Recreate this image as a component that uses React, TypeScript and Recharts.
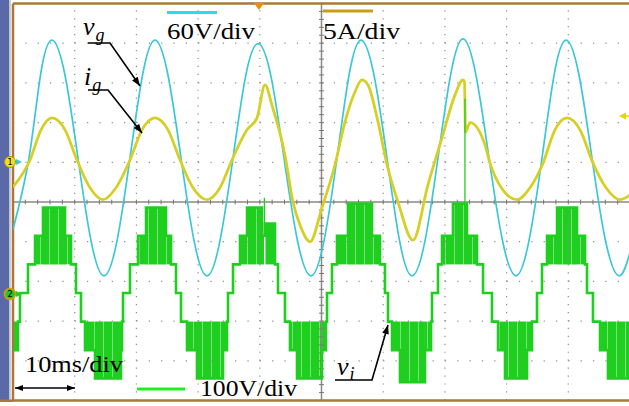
import {
  ComposedChart,
  Line,
  XAxis,
  YAxis,
  ReferenceLine,
  ReferenceArea,
} from "recharts";

// 10 ms/div, 10 divisions across; 10 vertical divisions
const TIME_DOMAIN = [0, 100];
const DIV_DOMAIN = [-5, 5];
const VG_DOMAIN = [-363.5, 236.5]; // 60 V/div
const IG_DOMAIN = [-30.29, 19.71]; // 5 A/div
const VI_DOMAIN = [-270.8, 729.2]; // 100 V/div

// grid voltage v_g (V)
const vgT = [0, 2.59, 4.45, 6.32, 8.43, 10.53, 12.64, 14.75, 16.86, 18.96, 20.99, 23.01, 25.12, 27.23, 29.34, 31.44, 33.55, 35.66, 37.69, 39.71, 41.82, 43.92, 46.11, 48.3, 50.41, 52.51, 54.46, 56.4, 58.51, 60.62, 62.65, 64.67, 66.78, 68.88, 70.91, 72.93, 75.04, 77.15, 79.34, 81.52, 83.63, 85.74, 87.69, 89.63, 91.74, 93.84, 96.03, 98.22, 100];
const vgV = [-105, 3, 128, 181, 128, 3, -122, -175, -122, 3, 128, 181, 128, 3, -122, -175, -122, 3, 126, 176, 126, 3, -122, -175, -122, 3, 128, 181, 128, 3, -122, -175, -122, 3, 128, 183, 128, 3, -122, -175, -122, 3, 128, 181, 128, 3, -122, -175, -140];

// grid current i_g (A)
const igT = [0, 2.76, 4.54, 6.32, 8.43, 10.37, 12.48, 14.59, 16.69, 18.96, 20.91, 23.01, 25.12, 27.07, 29.17, 31.44, 33.55, 35.49, 37.93, 39.55, 40.84, 41.98, 44.08, 45.38, 46.52, 48.14, 50.08, 52.19, 53.81, 55.43, 56.56, 57.54, 59.16, 60.62, 62.4, 64.83, 67.26, 69.53, 71.64, 72.93, 73.18, 73.34, 74.07, 76.5, 77.31, 79.42, 81.69, 83.79, 85.9, 87.84, 89.79, 91.9, 94.0, 96.11, 98.38, 100];
const igA = [-3.4, 0, 3.8, 5.3, 3.8, 0, -3.5, -5.0, -3.5, 0, 3.8, 5.3, 3.8, 0, -3.5, -5.0, -3.5, 0, 3.8, 5.3, 9.45, 6.9, 0.6, -5.3, -8.2, -10.3, -6.0, -0.6, 4.8, 8.6, 10.1, 9.45, 4.8, -0.6, -5.3, -10.1, -3.1, 2.8, 8.2, 10.1, 9.8, 3.5, 4.7, 1.9, -0.4, -3.8, -5.0, -3.5, -0.4, 3.8, 5.3, 3.8, -0.4, -3.5, -5.0, -4.4];

// inverter voltage v_i, staircase envelope (V)
const viT = [0, 0.81, 1.13, 2.43, 3.57, 4.86, 8.43, 9.4, 10.21, 11.02, 11.67, 13.29, 17.5, 17.67, 17.83, 18.96, 20.26, 21.56, 24.8, 25.61, 26.42, 27.23, 28.2, 29.82, 34.04, 34.68, 34.85, 35.66, 36.79, 37.93, 40.36, 40.85, 42.46, 42.95, 44.08, 44.89, 46.03, 50.08, 50.73, 50.89, 51.7, 52.51, 54.29, 58.18, 59.48, 60.29, 60.78, 61.43, 62.72, 66.77, 67.75, 67.91, 68.88, 69.53, 71.31, 73.58, 75.2, 76.18, 77.63, 78.61, 79.74, 83.31, 84.12, 84.93, 85.74, 86.55, 88.17, 91.41, 92.71, 93.03, 94.0, 95.14, 96.43, 100];
const viV = [-144, -72, 0, 72, 144, 215, 144, 72, 0, -72, -144, -215, -144, -72, 0, 72, 144, 215, 144, 72, 0, -72, -144, -215, -144, -72, 0, 72, 144, 215, 144, 175, 72, 0, -72, -144, -215, -144, -72, 0, 72, 144, 225, 144, 72, 0, -72, -144, -225, -144, -72, 0, 72, 144, 225, 144, 72, 0, -72, -144, -215, -144, -72, 0, 72, 144, 215, 144, 72, 0, -72, -144, -215, -215];

// PWM switching bands of v_i
const pwmStart = [0, 3.57, 4.86, 8.43, 11.67, 13.29, 17.5, 20.26, 21.56, 24.8, 28.2, 29.82, 34.04, 36.79, 37.93, 40.36, 40.85, 44.89, 46.03, 50.08, 52.51, 54.29, 58.18, 61.43, 62.72, 66.77, 69.53, 71.31, 73.58, 78.61, 79.74, 83.31, 86.55, 88.17, 91.41, 95.14, 96.43];
const pwmEnd = [0.81, 4.86, 8.43, 9.4, 13.29, 17.5, 17.67, 21.56, 24.8, 25.61, 29.82, 34.04, 34.68, 37.93, 40.36, 40.68, 42.46, 46.03, 50.08, 50.73, 54.29, 58.18, 59.48, 62.72, 66.77, 67.75, 71.31, 73.58, 75.2, 79.74, 83.31, 84.12, 88.17, 91.41, 92.71, 96.43, 100];
const pwmLow = [-144, 72, 72, 72, -144, -215, -144, 72, 72, 72, -144, -215, -144, 72, 72, 72, 72, -144, -215, -144, 72, 72, 72, -144, -225, -144, 72, 72, 72, -144, -215, -144, 72, 72, 72, -144, -215];
const pwmHigh = [-72, 144, 215, 144, -72, -72, -72, 144, 215, 144, -72, -72, -72, 144, 215, 144, 175, -72, -72, -72, 144, 225, 144, -72, -72, -72, 144, 225, 144, -72, -72, -72, 144, 215, 144, -72, -72];

// switching spikes
const spikeT = [40.75, 73.25];
const spikeFrom = [144, 225];
const spikeTo = [240, 490];

// graticule
const majorT = [10, 20, 30, 40, 60, 70, 80, 90];
const majorDiv = [-4, -3, -2, -1, 1, 2, 3, 4];
const minorT = Array.from({ length: 49 }, (_, i) => (i + 1) * 2);
const minorDiv = Array.from({ length: 49 }, (_, i) => -4.8 + i * 0.2);

const vgData = vgT.map((t, i) => ({ t, v: vgV[i] }));
const igData = igT.map((t, i) => ({ t, a: igA[i] }));
const viData = viT.map((t, i) => ({ t, v: viV[i] }));
const spikeData = spikeT.flatMap((t, i) => [
  { t, v: spikeFrom[i] },
  { t, v: spikeTo[i] },
  { t, v: null },
]);

const CYAN = "#3ac7d7";
const YELLOW = "#d6cf26";
const GREEN = "#1fcf1f";
const BROWN = "#a8793a";
const DOT = "#8c8c8c";
const FONT = "'Liberation Serif', 'DejaVu Serif', serif";

const Arrow = ({ pts, head = 9, both = false }: { pts: number[][]; head?: number; both?: boolean }) => {
  const tipHead = (a: number[], b: number[]) => {
    const dx = b[0] - a[0];
    const dy = b[1] - a[1];
    const len = Math.hypot(dx, dy);
    const ux = dx / len;
    const uy = dy / len;
    const bx = b[0] - ux * head;
    const by = b[1] - uy * head;
    const w = head * 0.38;
    return `${b[0]},${b[1]} ${bx - uy * w},${by + ux * w} ${bx + uy * w},${by - ux * w}`;
  };
  const n = pts.length;
  return (
    <g>
      <polyline
        points={pts.map((p) => p.join(",")).join(" ")}
        fill="none"
        stroke="#000"
        strokeWidth={1.6}
      />
      <polygon points={tipHead(pts[n - 2], pts[n - 1])} fill="#000" />
      {both && <polygon points={tipHead(pts[1], pts[0])} fill="#000" />}
    </g>
  );
};

const tickAxis = {
  type: "number" as const,
  interval: 0 as const,
  mirror: true,
  tick: false,
  tickSize: 4,
  axisLine: false,
  tickLine: { stroke: "#666" },
};

const App = () => {
  return (
    <div
      style={{
        position: "absolute",
        left: 0,
        top: 0,
        width: 629,
        height: 406,
        overflow: "hidden",
        background: "#fff",
      }}
    >
      <ComposedChart
        width={640}
        height={406}
        margin={{ top: 3.5, right: 10, bottom: 5.5, left: 13 }}
      >
        <defs>
          <pattern id="pwmFill" width="9" height="10" patternUnits="userSpaceOnUse">
            <rect width="9" height="10" fill={GREEN} />
            <rect x="4" width="0.7" height="10" fill="#a2eaa2" />
          </pattern>
        </defs>

        <XAxis xAxisId={0} dataKey="t" type="number" domain={TIME_DOMAIN} allowDataOverflow hide />
        <XAxis xAxisId="top" orientation="top" domain={TIME_DOMAIN} ticks={minorT} height={0} {...tickAxis} />
        <XAxis xAxisId="bottom" orientation="bottom" domain={TIME_DOMAIN} ticks={minorT} height={0} {...tickAxis} />
        <YAxis yAxisId="div" type="number" domain={DIV_DOMAIN} allowDataOverflow hide />
        <YAxis yAxisId="vg" type="number" domain={VG_DOMAIN} allowDataOverflow hide />
        <YAxis yAxisId="ig" type="number" domain={IG_DOMAIN} allowDataOverflow hide />
        <YAxis yAxisId="vi" type="number" domain={VI_DOMAIN} allowDataOverflow hide />
        <YAxis yAxisId="left" orientation="left" domain={DIV_DOMAIN} ticks={minorDiv} width={0} {...tickAxis} />
        <YAxis yAxisId="right" orientation="right" domain={DIV_DOMAIN} ticks={minorDiv} width={0} {...tickAxis} />

        {/* dotted graticule */}
        {majorT.map((t) => (
          <ReferenceLine key={`gx${t}`} x={t} yAxisId="div" stroke={DOT} strokeWidth={1.2} strokeDasharray="1.2 6.74" />
        ))}
        {majorDiv.map((d) => (
          <ReferenceLine key={`gy${d}`} y={d} yAxisId="div" stroke={DOT} strokeWidth={1.2} strokeDasharray="1.2 11.14" />
        ))}
        <ReferenceLine x={50} yAxisId="div" stroke="#8d8882" strokeWidth={1.5} />
        <ReferenceLine y={0} yAxisId="div" stroke="#8d8882" strokeWidth={1.5} />
        {minorT.map((t) => (
          <ReferenceLine
            key={`cx${t}`}
            yAxisId="div"
            segment={[{ x: t, y: -0.06 }, { x: t, y: 0.06 }]}
            stroke="#777"
          />
        ))}
        {minorDiv.map((d) => (
          <ReferenceLine
            key={`cy${d}`}
            yAxisId="div"
            segment={[{ x: 49.6, y: d }, { x: 50.4, y: d }]}
            stroke="#777"
          />
        ))}

        {/* frame */}
        <ReferenceLine y={5} yAxisId="div" stroke={BROWN} strokeWidth={2.5} />
        <ReferenceLine y={-5} yAxisId="div" stroke={BROWN} strokeWidth={2.5} />
        <ReferenceLine x={0} yAxisId="div" stroke={BROWN} strokeWidth={2.5} />

        {/* v_i PWM bands */}
        {pwmStart.map((s, i) => (
          <ReferenceArea
            key={`pwm${i}`}
            yAxisId="vi"
            x1={s}
            x2={pwmEnd[i]}
            y1={pwmLow[i]}
            y2={pwmHigh[i]}
            fill="url(#pwmFill)"
            fillOpacity={1}
            stroke="none"
          />
        ))}
        <Line
          data={viData}
          yAxisId="vi"
          dataKey="v"
          type="stepAfter"
          stroke={GREEN}
          strokeWidth={2.6}
          dot={false}
          isAnimationActive={false}
        />
        <Line
          data={vgData}
          yAxisId="vg"
          dataKey="v"
          type="natural"
          stroke={CYAN}
          strokeWidth={1.7}
          dot={false}
          isAnimationActive={false}
        />
        <Line
          data={igData}
          yAxisId="ig"
          dataKey="a"
          type="monotone"
          stroke={YELLOW}
          strokeWidth={2.8}
          dot={false}
          isAnimationActive={false}
        />
        <Line
          data={spikeData}
          yAxisId="vi"
          dataKey="v"
          type="linear"
          stroke={GREEN}
          strokeWidth={1.3}
          dot={false}
          connectNulls={false}
          isAnimationActive={false}
        />
      </ComposedChart>

      {/* scope furniture and annotations, drawn above the traces */}
      <svg
        width={629}
        height={406}
        style={{ position: "absolute", left: 0, top: 0, pointerEvents: "none" }}
      >
        <rect x={0} y={0} width={9.5} height={401} fill="#5a69a8" />
        <rect x={9.5} y={0} width={1.5} height={401} fill="#d9d3c6" />
        <rect x={0} y={399.5} width={13} height={2.5} fill={BROWN} />
        <polygon points="254,3 264,3 259,10" fill="#f08c00" />
        <polygon points="619,116 626,112.5 626,119.5" fill="#e6d600" />
        <line x1={624} y1={116} x2={629} y2={116} stroke="#e6d600" strokeWidth={1.5} />
        <circle cx={10} cy={162} r={5.5} fill="#ece21e" stroke="#a89a00" />
        <text x={10} y={165} fontSize={8} fontFamily="DejaVu Sans" textAnchor="middle" fill="#000">1</text>
        <polygon points="16,159 22,162 16,165" fill={CYAN} />
        <circle cx={10} cy={294} r={5.5} fill="#2cc22c" stroke="#e39a00" strokeWidth={1.5} />
        <text x={10} y={297} fontSize={8} fontFamily="DejaVu Sans" textAnchor="middle" fill="#000">2</text>
        <polygon points="16,291 22,294 16,297" fill={GREEN} />

        {/* scale legends */}
        <rect x={167} y={11} width={50} height={3} fill="#22dfe8" />
        <text x={167} y={39} fontSize={24} fontFamily={FONT} textLength={88} lengthAdjust="spacingAndGlyphs">60V/div</text>
        <rect x={323} y={9.5} width={50} height={3} fill="#c9a012" />
        <text x={323} y={39} fontSize={24} fontFamily={FONT} textLength={77} lengthAdjust="spacingAndGlyphs">5A/div</text>
        <text x={25} y={372} fontSize={24} fontFamily={FONT} textLength={98} lengthAdjust="spacingAndGlyphs">10ms/div</text>
        <Arrow pts={[[15, 388], [75, 388]]} both head={8} />
        <rect x={137} y={387.5} width={48} height={3} fill="#22ee22" />
        <text x={200} y={396} fontSize={24} fontFamily={FONT} textLength={97} lengthAdjust="spacingAndGlyphs">100V/div</text>

        {/* trace names */}
        <text x={83} y={35} fontSize={26} fontFamily={FONT} fontStyle="italic">
          v<tspan dx={1} dy={6} fontSize={18}>g</tspan>
        </text>
        <Arrow pts={[[88, 43], [110, 43], [140, 86]]} />
        <text x={84} y={85} fontSize={26} fontFamily={FONT} fontStyle="italic">
          i<tspan dx={1} dy={6} fontSize={18}>g</tspan>
        </text>
        <Arrow pts={[[88, 90], [108, 90], [142, 133]]} />
        <text x={337} y={375} fontSize={26} fontFamily={FONT} fontStyle="italic">
          v<tspan dx={1} dy={5} fontSize={18}>i</tspan>
        </text>
        <Arrow pts={[[335, 380], [372, 380], [388, 325]]} />
      </svg>
    </div>
  );
};

export default App;
